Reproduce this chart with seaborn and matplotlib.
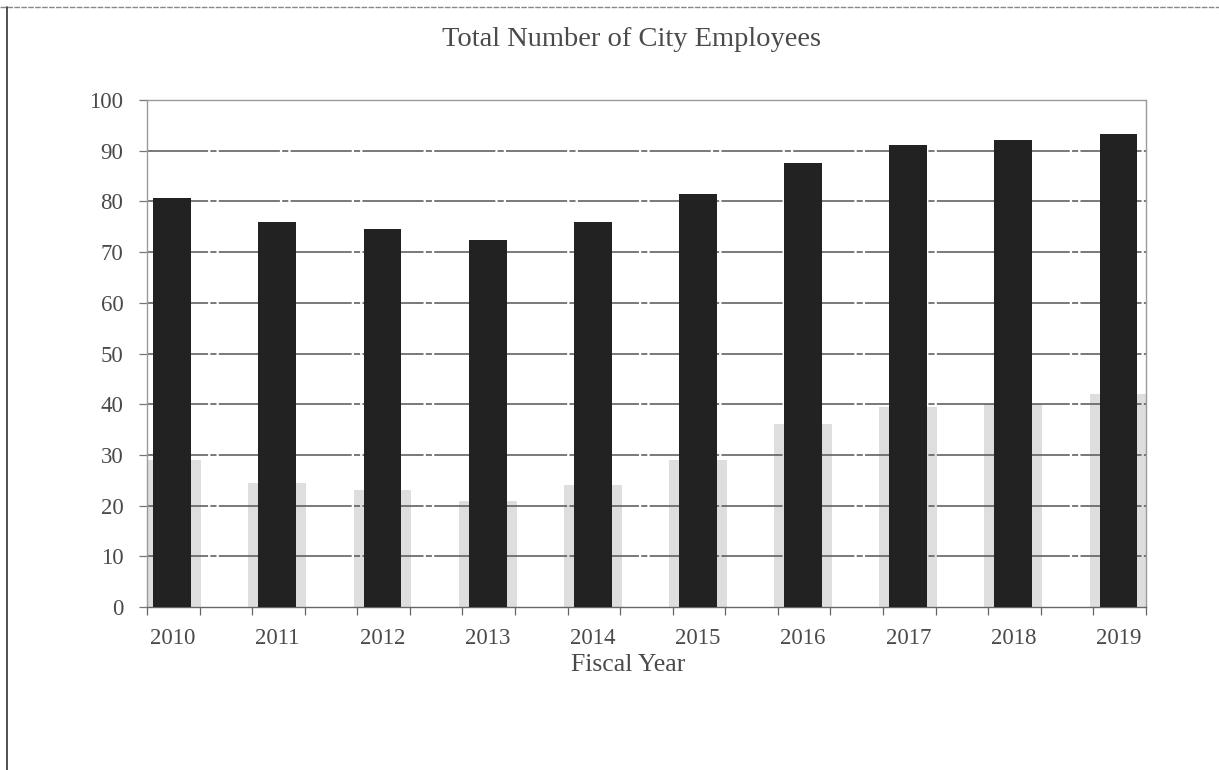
import matplotlib
matplotlib.use("Agg")
import matplotlib.pyplot as plt
from matplotlib.lines import Line2D
import numpy as np
import pandas as pd
import seaborn as sns

# Fiscal years and headcount
years = ["2010", "2011", "2012", "2013", "2014", "2015", "2016", "2017", "2018", "2019"]
employees = [80.6, 76.0, 74.5, 72.4, 75.9, 81.4, 87.5, 91.2, 92.2, 93.3]
# soft grey glow drawn behind the lower part of each bar
glow = [29, 24.5, 23, 21, 24, 29, 36, 39.5, 40, 42]

yticks = [0, 10, 20, 30, 40, 50, 60, 70, 80, 90, 100]

sns.set_theme(style="white")
plt.rcParams["font.family"] = ["Liberation Serif", "DejaVu Serif"]

df = pd.DataFrame({"year": years, "employees": employees, "glow": glow})

fig = plt.figure(figsize=(12.19, 7.70), dpi=100)
ax = fig.add_axes([0.1206, 0.2117, 0.8194, 0.6584])

text_col = "#4a4a4a"

sns.barplot(data=df, x="year", y="glow", order=years, color="#c8c8c8",
            width=0.55, saturation=1, ax=ax, zorder=1, alpha=0.6)
sns.barplot(data=df, x="year", y="employees", order=years, color="#222222",
            width=0.36, saturation=1, ax=ax, zorder=3)
for p in ax.patches:
    p.set_edgecolor("none")

ax.set_xlim(-0.24, 9.24)
ax.set_ylim(0, 100)
ax.set_yticks(yticks)
ax.set_yticklabels([str(v) for v in yticks])

# horizontal gridlines
for v in yticks[1:-1]:
    ax.axhline(v, color="#555555", lw=1.1, zorder=2,
               ls=(0, (40, 1.5, 4, 1.5)))

# frame
for side in ["left", "top", "right"]:
    ax.spines[side].set_color("#9a9a9a")
    ax.spines[side].set_linestyle((0, (1, 1)))
    ax.spines[side].set_linewidth(1.0)
ax.spines["bottom"].set_color("#666666")
ax.spines["bottom"].set_linewidth(1.0)

# category ticks between bars, labels centered on bars
ax.set_xticks(np.arange(-0.24, 9.3, 0.5), minor=True)
ax.tick_params(axis="x", which="minor", length=6, width=0.9, color="#666666",
               direction="out", bottom=True)
ax.tick_params(axis="x", which="major", length=0, pad=15,
               labelsize=16.5, labelcolor=text_col)
ax.tick_params(axis="y", which="major", left=True, length=6, width=0.9,
               color="#777777", direction="out", pad=11,
               labelsize=16.5, labelcolor=text_col)

ax.set_xlabel("")
ax.set_ylabel("")

fig.text(0.518, 1 - 40 / 770, "Total Number of City Employees",
         ha="center", va="center", fontsize=20.5, color=text_col)
fig.text(0.515, 1 - 665 / 770, "Fiscal Year",
         ha="center", va="center", fontsize=18.5, color=text_col)

# page edges
fig.add_artist(Line2D([0, 1], [1 - 7 / 770, 1 - 7 / 770],
                      transform=fig.transFigure, color="#888888", lw=1.0,
                      ls=(0, (4, 1))))
fig.add_artist(Line2D([7 / 1219, 7 / 1219], [0, 1 - 7 / 770],
                      transform=fig.transFigure, color="#333333", lw=1.2))

fig.savefig("out.png", dpi=100)
